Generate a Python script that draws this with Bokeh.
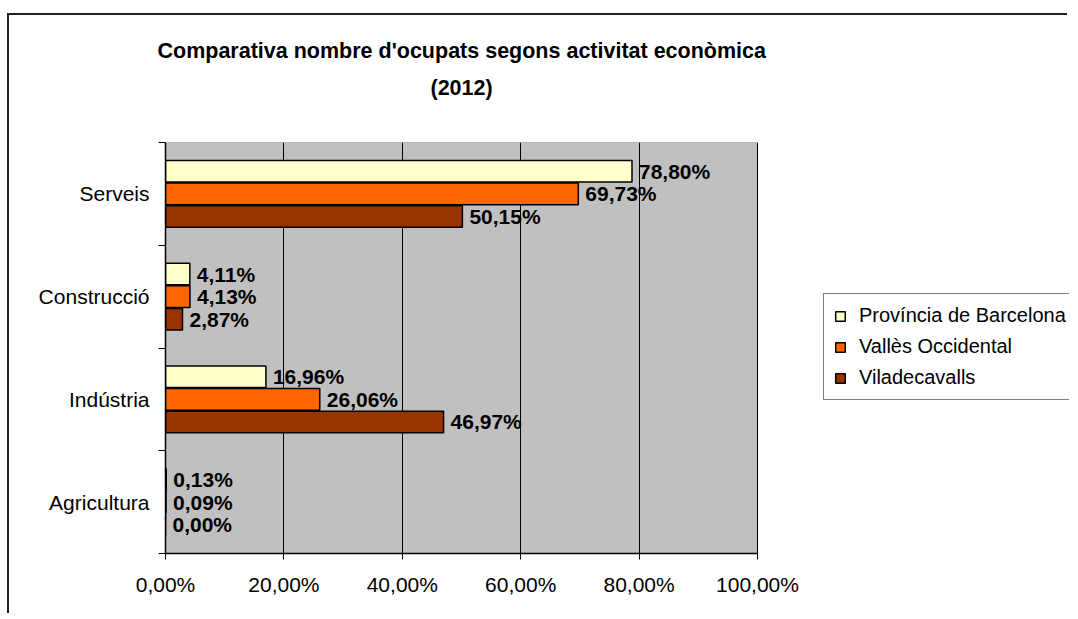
from bokeh.plotting import figure
from bokeh.models import ColumnDataSource, FixedTicker, Legend, LegendItem, Title
from bokeh.core.properties import value
from bokeh.embed import file_html
from bokeh.resources import INLINE

# ---- data ----
categories = ["Agricultura", "Indústria", "Construcció", "Serveis"]
series_names = ["Província de Barcelona", "Vallès Occidental", "Viladecavalls"]
provincia = [0.13, 16.96, 4.11, 78.80]
valles = [0.09, 26.06, 4.13, 69.73]
viladecavalls = [0.00, 46.97, 2.87, 50.15]
x_ticks = [0, 20, 40, 60, 80, 100]
x_tick_labels = ["0,00%", "20,00%", "40,00%", "60,00%", "80,00%", "100,00%"]

colors = ["#FFFFCC", "#FF6600", "#993300"]
offsets = [0.22, 0.0, -0.22]
series_values = [provincia, valles, viladecavalls]

FONT = "Liberation Sans"

# layout sizes (px)
W, H = 1060, 600
LEFT, TOP, BOTTOM = 156, 127, 62
FRAME_W = W - LEFT
PLOT_W = 592  # width of the grey plot area
x_end = x_ticks[-1] * FRAME_W / PLOT_W

p = figure(width=W, height=H, output_backend="svg", toolbar_location=None,
           x_range=(x_ticks[0], x_end), y_range=(0, len(categories)),
           min_border_left=LEFT, min_border_right=0,
           min_border_top=TOP, min_border_bottom=BOTTOM,
           background_fill_color="white", border_fill_color="white",
           outline_line_color=None)
p.styles = {"border-top": "2px solid #222", "border-left": "2px solid #222",
            "margin-top": "13px", "margin-left": "7px"}

# Title (two lines) + spacer, centred over the grey plot area
spacer = Title(text=" ", text_font_size="10px", standoff=24)
t2 = Title(text="(2012)", align="left", offset=265, text_font=FONT,
           text_font_size="21.5px", text_font_style="bold", text_color="black", standoff=11)
t1 = Title(text="Comparativa nombre d'ocupats segons activitat econòmica", align="left",
           offset=-8, text_font=FONT, text_font_size="21.5px",
           text_font_style="bold", text_color="black", standoff=11)
p.add_layout(spacer, "above")
p.add_layout(t2, "above")
p.add_layout(t1, "above")

# grey plot area
p.quad(left=x_ticks[0], right=x_ticks[-1], bottom=0, top=len(categories),
       fill_color="#C0C0C0", line_color="#808080", line_width=1, level="image")

items = []
for name, vals, col, off in zip(series_names, series_values, colors, offsets):
    ys = [i + 0.5 + off for i in range(len(categories))]
    labels = [("%.2f" % v).replace(".", ",") + "%" for v in vals]
    src = ColumnDataSource(dict(y=ys, x=vals, lab=labels))
    r = p.hbar(y="y", left=0, right="x", height=0.21, source=src,
               fill_color=col, line_color="black", line_width=1.5)
    p.text(x="x", y="y", text="lab", source=src, x_offset=7,
           text_font=value(FONT), text_font_size="21px", text_font_style="bold",
           text_align="left", text_baseline="middle", text_color="black")
    items.append(LegendItem(label=name, renderers=[r]))

# grid
p.ygrid.visible = False
p.xgrid.ticker = FixedTicker(ticks=x_ticks)
p.xgrid.grid_line_color = "black"
p.xgrid.grid_line_width = 1

# x axis
p.xaxis.ticker = FixedTicker(ticks=x_ticks)
p.xaxis.bounds = (x_ticks[0], x_ticks[-1])
p.xaxis.major_label_overrides = {t: l for t, l in zip(x_ticks, x_tick_labels)}
p.xaxis.major_label_text_font = FONT
p.xaxis.major_label_text_font_size = "21px"
p.xaxis.major_label_text_color = "black"
p.xaxis.axis_line_color = "black"
p.xaxis.axis_line_width = 1.5
p.xaxis.major_tick_line_color = "black"
p.xaxis.major_tick_out = 6
p.xaxis.major_tick_in = 0
p.xaxis.minor_tick_line_color = None
p.xaxis.major_label_standoff = 13

# y axis: labels at category centres, ticks at boundaries
centres = [i + 0.5 for i in range(len(categories))]
p.yaxis.ticker = FixedTicker(ticks=centres, minor_ticks=list(range(len(categories) + 1)))
p.yaxis.major_label_overrides = {c: n for c, n in zip(centres, categories)}
p.yaxis.major_label_text_font = FONT
p.yaxis.major_label_text_font_size = "21px"
p.yaxis.major_label_text_color = "black"
p.yaxis.axis_line_color = "black"
p.yaxis.axis_line_width = 1.5
p.yaxis.major_tick_out = 0
p.yaxis.major_tick_in = 0
p.yaxis.minor_tick_out = 7
p.yaxis.minor_tick_in = 0
p.yaxis.minor_tick_line_color = "black"
p.yaxis.major_label_standoff = 9

legend = Legend(items=items, location=(658, 153),
                label_text_font=FONT, label_text_font_size="20px",
                label_text_color="black", label_height=22,
                glyph_width=12, glyph_height=12, spacing=8, padding=10,
                label_standoff=13, margin=0,
                border_line_color="black", border_line_width=1,
                background_fill_color="white", background_fill_alpha=1)
p.add_layout(legend, "center")

open("out.html", "w").write(file_html(p, INLINE))
